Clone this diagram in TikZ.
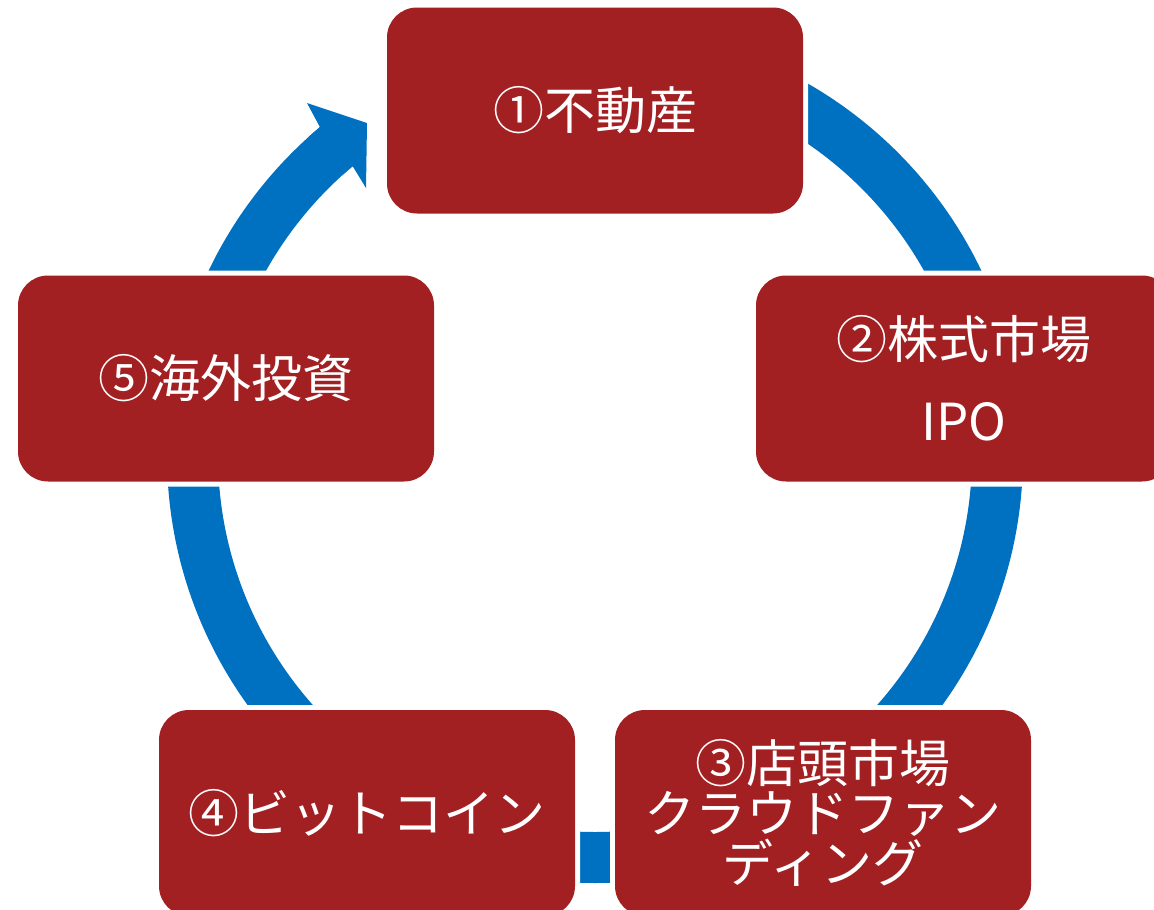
\documentclass[tikz,border=0pt]{standalone}
\usepackage{fontspec}
\setmainfont{Noto Sans CJK JP}
\definecolor{boxred}{HTML}{A21F22}
\definecolor{ringblue}{HTML}{0070C0}
\begin{document}
\begin{tikzpicture}[x=1pt,y=-1pt,
  cyclebox/.style={rectangle, rounded corners=30pt, minimum width=416pt,
    minimum height=206pt, inner sep=0pt, fill=boxred,
    preaction={draw=white, line width=10pt}, text=white, align=center,
    font=\fontsize{51}{50}\selectfont},
  ring/.style={fill=ringblue}]
\useasboundingbox (0,0) rectangle (1154,910);
\clip (0,0) rectangle (1154,910);
\fill[white] (0,0) rectangle (1154,910);
\coordinate (c) at (595,455);
% ring band
\fill[ring, even odd rule] (c) circle[radius=428pt] (c) circle[radius=377pt];
% gap before box 1
\fill[white] (c) -- (209.3,-4.6) -- (332,-84.3) -- cycle;
% arrow head
\coordinate (ib) at (352.7,166.2);
\coordinate (ib2) at (342.7,174.8);
\coordinate (ob2) at (308.6,136.9);
\coordinate (ob) at (319.9,127.1);
\coordinate (barbo) at (307,103);
\coordinate (tip) at (367,123);
\coordinate (barbi) at (366,188);
\fill[ring] (ib) -- (ib2) -- (ob2) -- (ob) -- (barbo) -- (tip) -- (barbi) -- cycle;
% boxes
\node[cyclebox] (n1) at (595,110.5) {①不動産};
\node[cyclebox] (n2) at (964,378.5) {②株式市場\\[32pt]IPO};
\node[cyclebox] (n3) at (823,813) {③店頭市場\\クラウドファン\\ディング};
\node[cyclebox] (n4) at (367,813) {④ビットコイン};
\node[cyclebox] (n5) at (226,378.5) {⑤海外投資};
\end{tikzpicture}
\end{document}
